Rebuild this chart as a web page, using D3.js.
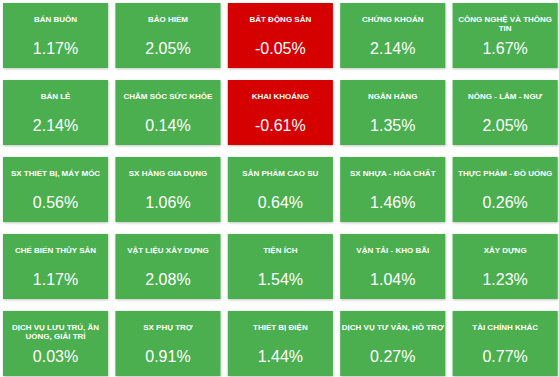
<!DOCTYPE html>
<html>
<head>
<meta charset="utf-8">
<script src="https://cdn.jsdelivr.net/npm/d3@7"></script>
<style>
  html, body { margin: 0; padding: 0; background: #fff; }
  svg { display: block; }
  text { font-family: "Liberation Sans", Arial, sans-serif; fill: #fff; }
</style>
</head>
<body>
<div id="chart"></div>
<script>
// sector names, row by row
const sectors = [
  "BÁN BUÔN", "BẢO HIỂM", "BẤT ĐỘNG SẢN", "CHỨNG KHOÁN", "CÔNG NGHỆ VÀ THÔNG TIN",
  "BÁN LẺ", "CHĂM SÓC SỨC KHỎE", "KHAI KHOÁNG", "NGÂN HÀNG", "NÔNG - LÂM - NGƯ",
  "SX THIẾT BỊ, MÁY MÓC", "SX HÀNG GIA DỤNG", "SẢN PHẨM CAO SU", "SX NHỰA - HÓA CHẤT", "THỰC PHẨM - ĐỒ UỐNG",
  "CHẾ BIẾN THỦY SẢN", "VẬT LIỆU XÂY DỰNG", "TIỆN ÍCH", "VẬN TẢI - KHO BÃI", "XÂY DỰNG",
  "DỊCH VỤ LƯU TRÚ, ĂN UỐNG, GIẢI TRÍ", "SX PHỤ TRỢ", "THIẾT BỊ ĐIỆN", "DỊCH VỤ TƯ VẤN, HỖ TRỢ", "TÀI CHÍNH KHÁC"
];
// % change
const changes = [
  1.17, 2.05, -0.05, 2.14, 1.67,
  2.14, 0.14, -0.61, 1.35, 2.05,
  0.56, 1.06, 0.64, 1.46, 0.26,
  1.17, 2.08, 1.54, 1.04, 1.23,
  0.03, 0.91, 1.44, 0.27, 0.77
];
const cols = [0, 1, 2, 3, 4];
const rows = [0, 1, 2, 3, 4];

const width = 559, height = 377;
const upColor = "#4caf50", downColor = "#d50000";

const svg = d3.select("#chart").append("svg")
  .attr("width", width)
  .attr("height", height);

const defs = svg.append("defs");
const shadow = defs.append("filter")
  .attr("id", "shadow")
  .attr("x", "-10%").attr("y", "-10%")
  .attr("width", "130%").attr("height", "130%");
shadow.append("feDropShadow")
  .attr("dx", 0.5).attr("dy", 1)
  .attr("stdDeviation", 1)
  .attr("flood-color", "#000")
  .attr("flood-opacity", 0.25);

const x = d3.scaleBand()
  .domain(cols)
  .range([3, 557.7])
  .paddingInner(0.065);

const y = d3.scaleBand()
  .domain(rows)
  .range([3, 376])
  .paddingInner(0.155);

const tiles = svg.selectAll("g.tile")
  .data(sectors.map((name, i) => ({ name, value: changes[i], col: i % 5, row: Math.floor(i / 5) })))
  .enter()
  .append("g")
    .attr("class", "tile")
    .attr("transform", d => `translate(${x(d.col)}, ${y(d.row)})`);

tiles.append("rect")
  .attr("width", x.bandwidth())
  .attr("height", y.bandwidth())
  .attr("fill", d => d.value < 0 ? downColor : upColor)
  .attr("filter", "url(#shadow)");

const maxTitleWidth = x.bandwidth() - 1;

tiles.each(function (d) {
  const g = d3.select(this);
  const title = g.append("text")
    .attr("x", x.bandwidth() / 2)
    .attr("y", 19)
    .attr("text-anchor", "middle")
    .attr("font-size", 8)
    .attr("font-weight", "bold");

  // wrap words into lines
  const words = d.name.split(" ");
  let line = [];
  let tspan = title.append("tspan").attr("x", x.bandwidth() / 2).attr("dy", 0);
  words.forEach(w => {
    line.push(w);
    tspan.text(line.join(" "));
    if (tspan.node().getComputedTextLength() > maxTitleWidth && line.length > 1) {
      line.pop();
      tspan.text(line.join(" "));
      line = [w];
      tspan = title.append("tspan")
        .attr("x", x.bandwidth() / 2)
        .attr("dy", 9.4)
        .text(w);
    }
  });

  g.append("text")
    .attr("x", x.bandwidth() / 2)
    .attr("y", 51)
    .attr("text-anchor", "middle")
    .attr("font-size", 16)
    .text(d.value.toFixed(2) + "%");
});
</script>
</body>
</html>
